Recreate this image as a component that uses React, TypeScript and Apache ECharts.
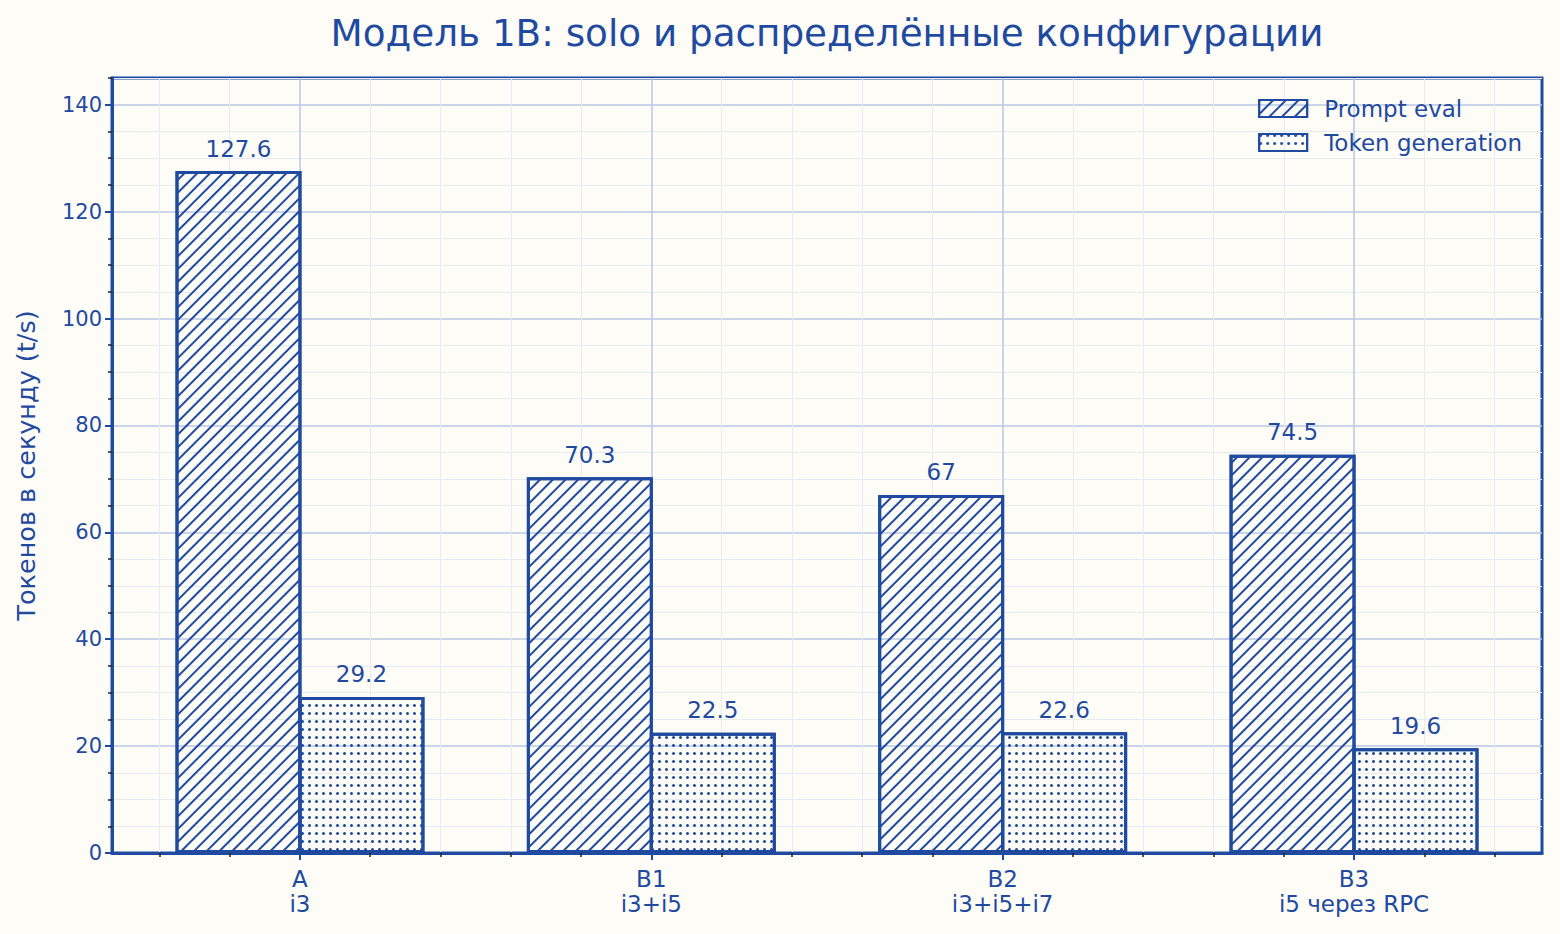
import { useEffect, useRef } from "react";
import * as echarts from "echarts";

const CATEGORIES = ["A", "B1", "B2", "B3"];
const SUBLABELS = ["i3", "i3+i5", "i3+i5+i7", "i5 через RPC"];
const SERIES_NAMES = ["Prompt eval", "Token generation"];
const PROMPT_EVAL = [127.6, 70.3, 67, 74.5];
const TOKEN_GEN = [29.2, 22.5, 22.6, 19.6];
const Y_MAJOR = [0, 20, 40, 60, 80, 100, 120, 140];
const Y_MINOR = [5, 10, 15, 25, 30, 35, 45, 50, 55, 65, 70, 75, 85, 90, 95, 105, 110, 115, 125, 130, 135, 145];
const X_MAJOR = [0, 1, 2, 3];
const X_MINOR = [-0.4, -0.2, 0.2, 0.4, 0.6, 0.8, 1.2, 1.4, 1.6, 1.8, 2.2, 2.4, 2.6, 2.8, 3.2, 3.4];

const BLUE = "#1f4aa0";
const BG = "#fdfcf7";
const FONT = "DejaVu Sans";
const BAR_W = 0.35;
const BORDER = 3;
const X_MIN = -0.535;
const X_MAX = 3.535;
const GRID = { left: 112, right: 18, top: 78, bottom: 81 };

export default function App() {
  const ref = useRef<HTMLDivElement>(null);

  useEffect(() => {
    const el = ref.current;
    if (!el) return;
    const chart = echarts.init(el, undefined, { renderer: "svg" });
    const plotW = el.clientWidth - GRID.left - GRID.right;
    // echarts draws the border inside the bar box; widen by one border so the
    // stroke sits centred on the edge like matplotlib, and overlap the pair
    const barPx = (BAR_W * plotW) / (X_MAX - X_MIN) + BORDER;
    const gap = `${(-BORDER / barPx) * 100}%`;

    const hatch = {
      symbol: "rect",
      symbolSize: 1,
      color: BLUE,
      backgroundColor: "rgba(0,0,0,0)",
      dashArrayX: [1, 0],
      dashArrayY: [2, 6.5],
      rotation: -Math.PI / 4,
    };
    const dots = {
      symbol: "circle",
      symbolSize: 1,
      color: BLUE,
      backgroundColor: "rgba(0,0,0,0)",
      dashArrayX: [3, 3.8],
      dashArrayY: [3, 4.2],
      rotation: 0,
    };

    const mkSeries = (name: string, vals: number[], decal: any) => ({
      name,
      type: "bar",
      xAxisIndex: 0,
      yAxisIndex: 0,
      barWidth: barPx,
      barGap: gap,
      data: vals.map((v, i) => [i, v]),
      itemStyle: { color: "rgba(0,0,0,0)", borderColor: BLUE, borderWidth: BORDER, decal },
      label: {
        show: true,
        position: "top",
        distance: 11,
        color: BLUE,
        fontFamily: FONT,
        fontSize: 23,
        formatter: (p: any) => String(p.value[1]),
      },
      z: 3,
    });

    chart.setOption({
      animation: false,
      backgroundColor: BG,
      textStyle: { fontFamily: FONT },
      graphic: [
        {
          type: "text",
          x: (GRID.left + el.clientWidth - GRID.right) / 2,
          y: 33,
          style: {
            text: "Модель 1B: solo и распределённые конфигурации",
            fill: BLUE,
            font: `37.3px "${FONT}"`,
            textAlign: "center",
            textVerticalAlign: "middle",
          },
        },
      ],
      grid: {
        ...GRID,
        outerBoundsMode: "none",
        containLabel: false,
        show: true,
        borderColor: BLUE,
        borderWidth: 3,
        backgroundColor: "transparent",
      },
      legend: {
        right: 38,
        top: 97,
        orient: "vertical",
        itemWidth: 48,
        itemHeight: 17,
        itemGap: 11,
        padding: 0,
        icon: "rect",
        textStyle: { color: BLUE, fontFamily: FONT, fontSize: 23, padding: [0, 0, 0, 12] },
        data: SERIES_NAMES,
      },
      xAxis: [
        {
          type: "value",
          min: X_MIN,
          max: X_MAX,
          axisLine: { show: true, onZero: false, lineStyle: { color: BLUE, width: 3 } },
          axisTick: { show: true, customValues: X_MAJOR, length: 7, lineStyle: { color: BLUE, width: 2 } },
          axisLabel: {
            customValues: X_MAJOR,
            margin: 13,
            color: BLUE,
            fontFamily: FONT,
            fontSize: 23,
            lineHeight: 25,
            formatter: (v: number) => {
              const i = Math.round(v);
              return `${CATEGORIES[i]}\n${SUBLABELS[i]}`;
            },
          },
          splitLine: { show: true, lineStyle: { color: "#b9c9e6", width: 1.5 } },
        },
        {
          type: "value",
          min: X_MIN,
          max: X_MAX,
          position: "bottom",
          axisLine: { show: false, onZero: false },
          axisTick: { show: true, customValues: X_MINOR, length: 4, lineStyle: { color: "#222", width: 1.5 } },
          axisLabel: { show: false },
          splitLine: { show: true, lineStyle: { color: "#e6ebf3", width: 1 } },
        },
      ],
      yAxis: [
        {
          type: "value",
          min: 0,
          max: 145,
          axisLine: { show: true, onZero: false, lineStyle: { color: BLUE, width: 3 } },
          axisTick: { show: true, customValues: Y_MAJOR, length: 7, lineStyle: { color: BLUE, width: 2 } },
          axisLabel: {
            customValues: Y_MAJOR,
            margin: 10,
            color: BLUE,
            fontFamily: FONT,
            fontSize: 21,
          },
          splitLine: { show: true, lineStyle: { color: "#b9c9e6", width: 1.5 } },
          name: "Токенов в секунду (t/s)",
          nameLocation: "middle",
          nameGap: 73,
          nameTextStyle: { color: BLUE, fontFamily: FONT, fontSize: 25.5 },
        },
        {
          type: "value",
          min: 0,
          max: 145,
          position: "left",
          axisLine: { show: false, onZero: false },
          axisTick: { show: true, customValues: Y_MINOR, length: 4, lineStyle: { color: "#222", width: 1.5 } },
          axisLabel: { show: false },
          splitLine: { show: true, lineStyle: { color: "#e6ebf3", width: 1 } },
        },
      ],
      series: [
        mkSeries(SERIES_NAMES[0], PROMPT_EVAL, hatch),
        mkSeries(SERIES_NAMES[1], TOKEN_GEN, dots),
      ],
    });
    return () => {
      chart.dispose();
    };
  }, []);

  return (
    <div
      ref={ref}
      style={{ position: "absolute", left: 0, top: 0, width: 1560, height: 934 }}
    />
  );
}
